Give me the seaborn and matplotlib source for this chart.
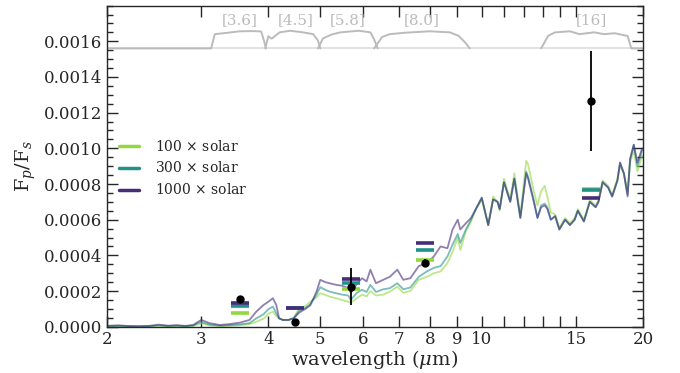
import numpy as np
import pandas as pd
import matplotlib
matplotlib.use("Agg")
import matplotlib.pyplot as plt
from matplotlib.lines import Line2D
import seaborn as sns

# ---------------- data ----------------
wavelength = [2.0, 2.1, 2.2, 2.3, 2.4, 2.5, 2.6, 2.7, 2.8, 2.9, 2.95, 3.0, 3.05, 3.11,
              3.25, 3.39, 3.54, 3.69, 3.80, 3.92, 4.0, 4.08, 4.14, 4.19, 4.26, 4.36,
              4.46, 4.57, 4.69, 4.79, 4.92, 5.0, 5.11, 5.2, 5.35, 5.49, 5.64, 5.70,
              5.85, 5.98, 6.1, 6.2, 6.35, 6.55, 6.74, 6.96, 7.14, 7.36, 7.63, 7.9,
              8.14, 8.38, 8.63, 8.82, 9.02, 9.12, 9.34, 9.55, 9.75, 10.0, 10.28, 10.5,
              10.7, 10.8, 11.0, 11.3, 11.5, 11.8, 12.1, 12.2, 12.5, 12.7, 12.9, 13.1,
              13.25, 13.45, 13.7, 13.95, 14.3, 14.6, 14.9, 15.1, 15.5, 15.9, 16.3,
              16.5, 16.8, 17.2, 17.5, 17.9, 18.1, 18.4, 18.7, 18.9, 19.2, 19.5, 19.9]

# planet/star flux ratio in units of 1e-4
flux_1000x = [0.05, 0.08, 0.04, 0.03, 0.05, 0.12, 0.06, 0.09, 0.05, 0.10, 0.25, 0.38, 0.30, 0.20,
              0.10, 0.15, 0.23, 0.38, 0.85, 1.22, 1.40, 1.60, 1.22, 0.47, 0.38, 0.38,
              0.47, 0.80, 1.00, 1.20, 1.97, 2.63, 2.50, 2.44, 2.35, 2.30, 2.16, 1.90,
              2.40, 2.72, 2.54, 3.20, 2.44, 2.63, 2.80, 3.20, 2.63, 2.72, 3.40, 3.57,
              3.94, 4.50, 4.40, 5.45, 6.00, 5.45, 5.80, 6.10, 6.60, 7.23, 5.70, 7.14,
              7.00, 6.60, 8.10, 7.00, 8.30, 6.10, 8.60, 8.30, 7.00, 6.10, 6.70, 6.80,
              6.60, 6.00, 6.20, 5.45, 6.00, 5.70, 6.00, 6.50, 5.90, 7.00, 6.70,
              7.00, 8.10, 7.80, 7.30, 8.20, 9.20, 8.60, 7.30, 9.40, 10.20, 9.20, 10.00]
flux_300x = [0.03, 0.05, 0.03, 0.02, 0.03, 0.08, 0.04, 0.06, 0.03, 0.07, 0.18, 0.27, 0.20, 0.12,
             0.06, 0.09, 0.13, 0.20, 0.47, 0.70, 0.98, 1.13, 0.75, 0.47, 0.38, 0.38,
             0.47, 0.90, 1.05, 1.25, 1.80, 2.22, 2.07, 1.97, 1.88, 1.80, 1.75, 1.50,
             1.90, 2.07, 1.95, 2.35, 1.95, 2.10, 2.16, 2.44, 2.10, 2.20, 2.80, 3.10,
             3.30, 3.40, 3.94, 4.60, 5.20, 4.70, 5.45, 6.00, 6.60, 7.23, 5.70, 7.14,
             7.00, 6.60, 8.10, 7.00, 8.30, 6.10, 8.70, 8.40, 7.10, 6.10, 6.80, 6.90,
             6.70, 6.00, 6.20, 5.45, 6.00, 5.70, 6.00, 6.50, 5.90, 7.00, 6.70,
             7.00, 8.10, 7.80, 7.30, 8.20, 9.20, 8.60, 7.40, 9.40, 10.20, 9.00, 9.90]
flux_100x = [0.02, 0.03, 0.02, 0.01, 0.02, 0.05, 0.03, 0.04, 0.02, 0.05, 0.12, 0.20, 0.14, 0.08,
             0.04, 0.05, 0.09, 0.15, 0.28, 0.45, 0.72, 0.85, 0.60, 0.47, 0.38, 0.38,
             0.50, 1.05, 1.15, 1.40, 1.65, 1.88, 1.79, 1.69, 1.60, 1.50, 1.40, 1.35,
             1.60, 1.80, 1.70, 2.00, 1.75, 1.80, 1.97, 2.25, 1.90, 2.00, 2.63, 2.80,
             3.00, 3.10, 3.57, 4.20, 5.00, 4.30, 5.35, 5.90, 6.60, 7.10, 5.70, 7.30,
             7.00, 6.50, 8.30, 7.10, 8.60, 6.20, 9.30, 9.10, 7.60, 6.80, 7.60, 7.90,
             7.30, 6.40, 6.30, 5.55, 6.10, 5.80, 6.10, 6.60, 6.00, 7.10, 6.80,
             7.10, 8.20, 7.90, 7.40, 8.30, 9.00, 8.60, 7.60, 9.20, 9.90, 8.70, 9.60]

model_labels = [r"100 $\times$ solar", r"300 $\times$ solar", r"1000 $\times$ solar"]
model_colors = ["#93d741", "#21918c", "#472c7a"]

# Spitzer band-integrated model values (1e-4)
band_names = ["[3.6]", "[4.5]", "[5.8]", "[8.0]", "[16]"]
band_centers = [3.54, 4.49, 5.70, 7.84, 16.0]
band_100x = [0.77, 1.07, 2.14, 3.74, 7.74]
band_300x = [1.15, 1.07, 2.45, 4.28, 7.66]
band_1000x = [1.32, 1.07, 2.70, 4.70, 7.23]

# observed eclipse depths (1e-4)
obs_wave = [3.54, 4.49, 5.70, 7.84, 16.0]
obs_depth = [1.54, 0.28, 2.25, 3.60, 12.64]
obs_err = [0.10, 0.10, 1.03, 0.20, 2.80]

# filter response curves (relative transmission)
filt_36_w = [2.0, 3.13, 3.18, 3.30, 3.54, 3.75, 3.88, 3.93, 3.96]
filt_36_t = [0.0, 0.0, 0.80, 0.85, 0.96, 0.97, 0.95, 0.40, 0.0]
filt_45_w = [3.95, 4.00, 4.06, 4.20, 4.39, 4.60, 4.85, 4.95, 5.00]
filt_45_t = [0.0, 0.68, 0.55, 0.90, 0.99, 0.92, 0.80, 0.45, 0.0]
filt_58_w = [4.95, 5.06, 5.25, 5.45, 5.90, 6.20, 6.30, 6.40]
filt_58_t = [0.0, 0.56, 0.78, 0.90, 0.99, 0.90, 0.50, 0.0]
filt_80_w = [6.30, 6.52, 6.74, 7.20, 8.00, 8.72, 9.05, 9.30, 9.50]
filt_80_t = [0.0, 0.64, 0.80, 0.88, 0.96, 0.90, 0.71, 0.35, 0.0]
filt_16_w = [12.9, 13.3, 13.7, 14.6, 15.2, 16.2, 16.9, 17.7, 18.4, 18.7, 19.0, 20.0]
filt_16_t = [0.0, 0.71, 0.90, 0.96, 0.80, 0.90, 0.80, 0.85, 0.74, 0.70, 0.0, 0.0]
label_x = [3.54, 4.50, 5.62, 7.72, 16.0]

# ---------------- style ----------------
sns.set_style("ticks")
plt.rcParams["font.family"] = ["DejaVu Serif"]
plt.rcParams["mathtext.fontset"] = "dejavuserif"

fig = plt.figure(figsize=(6.8, 3.73), dpi=100)
ax = fig.add_axes([0.157, 0.124, 0.789, 0.861])

scale = 1e-4
df = pd.concat([
    pd.DataFrame({"wavelength": wavelength, "flux": np.array(f) * scale, "model": lab})
    for f, lab in zip([flux_100x, flux_300x, flux_1000x], model_labels)
])
sns.lineplot(data=df, x="wavelength", y="flux", hue="model", hue_order=model_labels,
             palette=model_colors, estimator=None, sort=False, lw=1.3, alpha=0.6,
             legend=False, ax=ax)

# band-averaged bars
centers = np.array(band_centers)
for vals, col in zip([band_100x, band_300x, band_1000x], model_colors):
    ax.hlines(np.array(vals) * scale, centers / 1.04, centers * 1.04, colors=col, lw=2.6, zorder=4)

# observations
ax.errorbar(obs_wave, np.array(obs_depth) * scale, yerr=np.array(obs_err) * scale,
            fmt="o", color="black", ms=5, elinewidth=1.3, capsize=0, zorder=6)

# filter curves
base = 0.00156
amp = 0.0001
ax.axhline(base, color="#dddddd", lw=1.2, zorder=1)
for fw, ft in [(filt_36_w, filt_36_t), (filt_45_w, filt_45_t), (filt_58_w, filt_58_t),
               (filt_80_w, filt_80_t), (filt_16_w, filt_16_t)]:
    ax.plot(fw, base + amp * np.array(ft), color="#bbbbbb", lw=1.4, zorder=2)
for name, lx in zip(band_names, label_x):
    ax.text(lx, 0.00172, name, color="#bbbbbb", fontsize=11, ha="center", va="center")

# axes
ax.set_xscale("log")
ax.set_xlim(2, 20)
ax.set_ylim(0, 0.0018)
xt = [2, 3, 4, 5, 6, 7, 8, 9, 10, 11, 12, 13, 14, 15, 20]
ax.set_xticks(xt)
ax.set_xticklabels([str(v) if v not in (11, 12, 13, 14) else "" for v in xt])
ax.xaxis.set_minor_locator(matplotlib.ticker.NullLocator())
ax.set_yticks(np.arange(0, 0.00161, 0.0002))
ax.yaxis.set_major_formatter(matplotlib.ticker.FormatStrFormatter("%.4f"))
ax.yaxis.set_minor_locator(matplotlib.ticker.MultipleLocator(0.00005))
ax.tick_params(which="both", direction="in", top=True, right=True, labelsize=12)
ax.tick_params(which="major", length=8, width=1.0)
ax.tick_params(which="minor", length=4.5, width=1.0)
ax.tick_params(axis="x", which="major", pad=3)
for s in ax.spines.values():
    s.set_linewidth(1.0)
ax.set_xlabel(r"wavelength ($\mu$m)", fontsize=14, labelpad=0)
ax.set_ylabel(r"F$_p$/F$_s$", fontsize=14)

handles = [Line2D([0], [0], color=c, lw=2.5) for c in model_colors]
ax.legend(handles, model_labels, loc="upper left", bbox_to_anchor=(0.0, 0.625),
          frameon=False, fontsize=10, handlelength=1.4, handletextpad=1.2,
          labelspacing=0.5)

fig.savefig("out.png", dpi=100)
